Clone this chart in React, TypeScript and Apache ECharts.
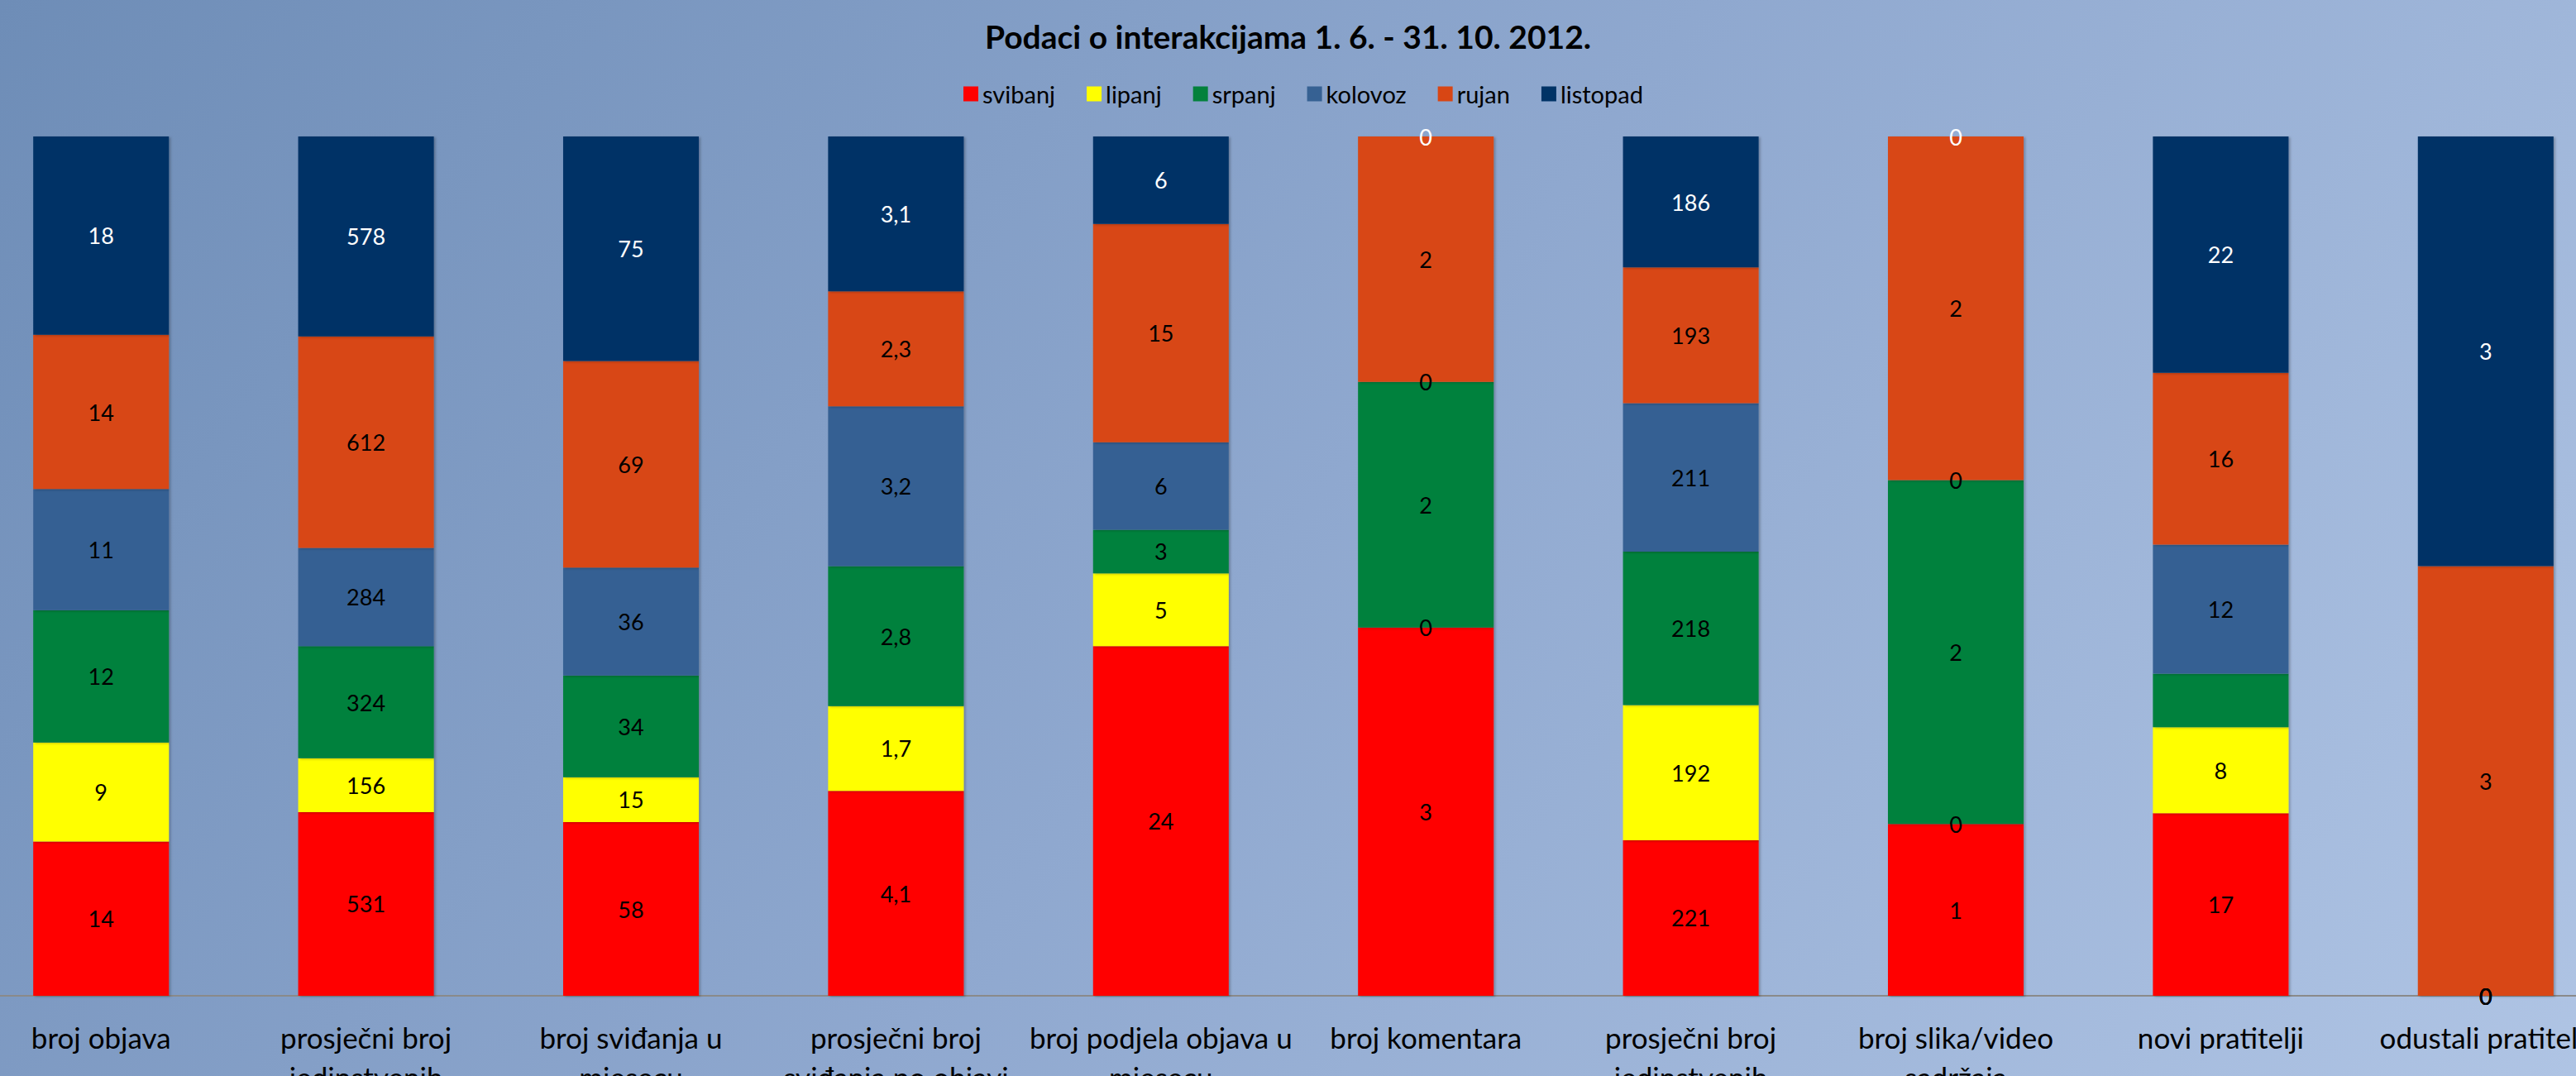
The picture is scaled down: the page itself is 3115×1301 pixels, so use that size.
import React, { useEffect, useRef } from "react";
import * as echarts from "echarts";

const categories = [
  "broj objava",
  "prosječni broj\njedinstvenih",
  "broj sviđanja u\nmjesecu",
  "prosječni broj\nsviđanja po objavi",
  "broj podjela objava u\nmjesecu",
  "broj komentara",
  "prosječni broj\njedinstvenih",
  "broj slika/video\nsadržaja",
  "novi pratitelji",
  "odustali pratitelji",
];

const seriesNames = ["svibanj", "lipanj", "srpanj", "kolovoz", "rujan", "listopad"];

const svibanj = [14, 531, 58, 4.1, 24, 3, 221, 1, 17, 0];
const lipanj = [9, 156, 15, 1.7, 5, 0, 192, 0, 8, 0];
const srpanj = [12, 324, 34, 2.8, 3, 2, 218, 2, 5, 0];
const kolovoz = [11, 284, 36, 3.2, 6, 0, 211, 0, 12, 0];
const rujan = [14, 612, 69, 2.3, 15, 2, 193, 2, 16, 3];
const listopad = [18, 578, 75, 3.1, 6, 0, 186, 0, 22, 3];

const seriesValues = [svibanj, lipanj, srpanj, kolovoz, rujan, listopad];

// labels not shown in the reference: [series index, category index]
const hiddenLabels = [[2, 8]];

const colors = ["#FF0000", "#FFFF00", "#03813C", "#366193", "#D84614", "#003366"];
const labelColors = ["#000", "#000", "#000", "#000", "#000", "#fff"];

const fmt = (v: number) => String(v).replace(".", ",");

export default function App() {
  const ref = useRef<HTMLDivElement>(null);

  useEffect(() => {
    if (!ref.current) return;
    const chart = echarts.init(ref.current, null, { renderer: "svg" });

    const totals = categories.map((_, i) =>
      seriesValues.reduce((s, arr) => s + arr[i], 0)
    );

    const series = seriesNames.map((name, k) => ({
      name,
      type: "bar",
      stack: "total",
      barWidth: "51.2%",
      itemStyle: {
        color: colors[k],
        shadowColor: "rgba(0,0,0,0.25)",
        shadowBlur: 3,
        shadowOffsetX: 2,
        shadowOffsetY: 1,
      },
      label: {
        show: true,
        position: "inside",
        color: labelColors[k],
        fontFamily: "Lato",
        fontSize: 27,
        formatter: (p: any) => fmt(seriesValues[k][p.dataIndex]),
      },
      data: seriesValues[k].map((v, i) => {
        const pct = (v / totals[i]) * 100;
        const hidden = hiddenLabels.some(([s, c]) => s === k && c === i);
        return hidden ? { value: pct, label: { show: false } } : pct;
      }),
    }));

    chart.setOption({
      animation: false,
      backgroundColor: "transparent",
      title: {
        text: "Podaci o interakcijama 1. 6. - 31. 10. 2012.",
        left: "center",
        top: 19,
        textStyle: {
          fontFamily: "Lato",
          fontWeight: "bold",
          fontSize: 39,
          color: "#000",
        },
      },
      legend: {
        data: seriesNames,
        left: 1160,
        top: 94,
        icon: "rect",
        itemWidth: 18,
        itemHeight: 18,
        itemGap: 38,
        textStyle: { fontFamily: "Lato", fontSize: 29, color: "#000" },
      },
      grid: {
        left: -38,
        right: -51,
        top: 165,
        bottom: 97,
        containLabel: false,
        outerBoundsMode: "none",
      },
      xAxis: {
        type: "category",
        data: categories,
        axisTick: { show: false },
        axisLine: { lineStyle: { color: "#8a8a8a", width: 2 } },
        axisLabel: {
          interval: 0,
          color: "#000",
          fontFamily: "Lato",
          fontSize: 35,
          lineHeight: 48,
          margin: 26,
        },
      },
      yAxis: {
        type: "value",
        min: 0,
        max: 100,
        show: false,
        splitLine: { show: false },
      },
      series,
    });

    return () => chart.dispose();
  }, []);

  return (
    <div
      style={{
        position: "fixed",
        left: 0,
        top: 0,
        width: 3115,
        height: 1301,
        overflow: "hidden",
        background: "linear-gradient(128deg, #6E8DB7 0%, #8FA8CF 50%, #AFC4E4 100%)",
      }}
    >
      <div ref={ref} style={{ width: 3115, height: 1301 }} />
    </div>
  );
}
